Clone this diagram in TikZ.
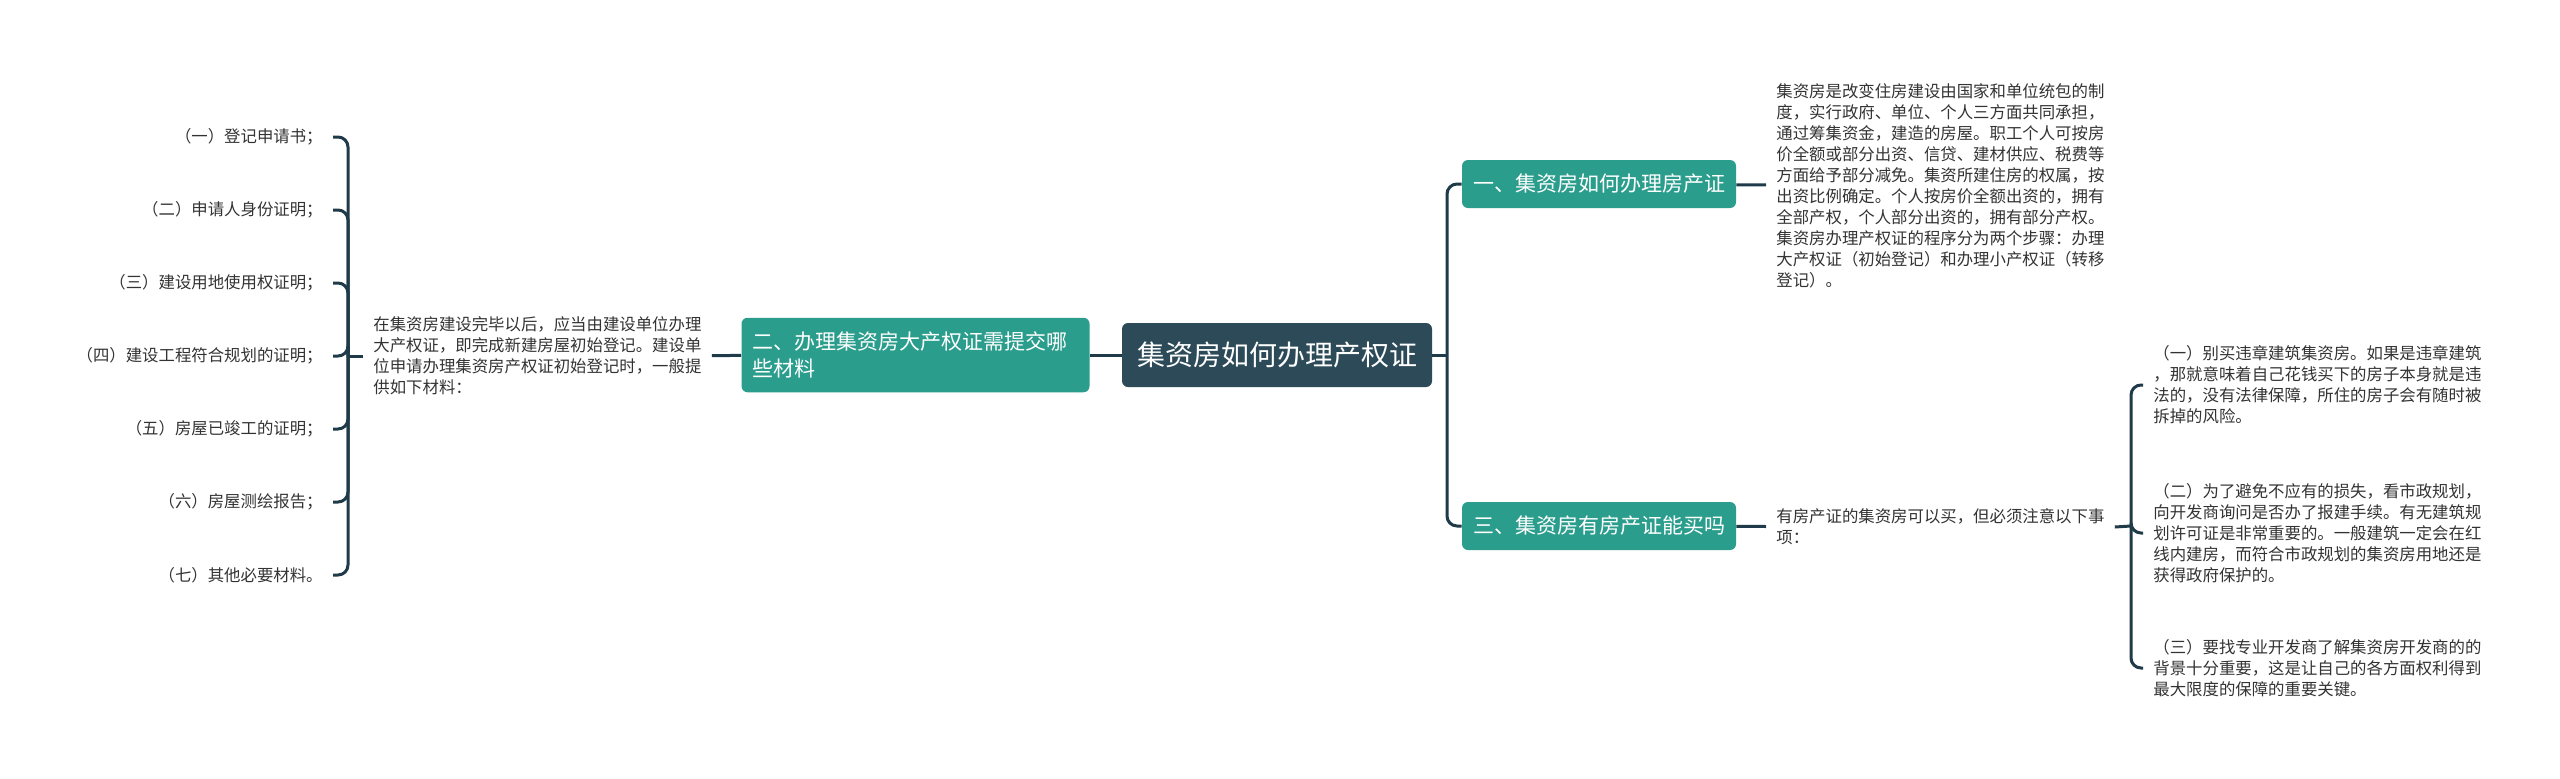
\documentclass[tikz,border=0pt]{standalone}
\usepackage{fontspec}
\newfontfamily\cjk{Noto Sans CJK SC}
\definecolor{rootfill}{HTML}{2C4A58}
\definecolor{topicfill}{HTML}{2A9D8C}
\definecolor{linkcol}{HTML}{1F3A48}
\definecolor{leafcol}{HTML}{333333}

\begin{document}
\begin{tikzpicture}[x=0.5pt,y=-0.5pt,
  root/.style={fill=rootfill,text=white,rounded corners=3pt,
    font=\cjk\fontsize{14}{17}\selectfont,inner xsep=7.5pt,minimum height=32pt},
  topic/.style={fill=topicfill,text=white,rounded corners=3pt,
    font=\cjk\fontsize{10.5}{13.5}\selectfont,inner xsep=5.5pt,inner ysep=7pt,minimum height=24pt},
  leaf/.style={text=leafcol,font=\cjk\fontsize{8.2}{10.5}\selectfont,align=left,
    inner xsep=5pt,inner ysep=2pt},
  link/.style={draw=linkcol,line width=1.5pt,rounded corners=5pt}]

\useasboundingbox[fill=white] (0,0) rectangle (2560,778);

% main topics
\node[root]  (root) at (1277,355)   {集资房如何办理产权证};
\node[topic,text width=163pt,align=left] (t2) at (915.5,355)
  {二、办理集资房大产权证需提交哪\\些材料};
\node[topic] (t1) at (1599,184) {一、集资房如何办理房产证};
\node[topic] (t3) at (1599,526) {三、集资房有房产证能买吗};

% texts
\node[leaf,anchor=west] (p2) at (363,356)
  {在集资房建设完毕以后，应当由建设单位办理\\大产权证，即完成新建房屋初始登记。建设单\\位申请办理集资房产权证初始登记时，一般提\\供如下材料：};
\node[leaf,anchor=west] (p1) at (1766,186)
  {集资房是改变住房建设由国家和单位统包的制\\度，实行政府、单位、个人三方面共同承担，\\通过筹集资金，建造的房屋。职工个人可按房\\价全额或部分出资、信贷、建材供应、税费等\\方面给予部分减免。集资所建住房的权属，按\\出资比例确定。个人按房价全额出资的，拥有\\全部产权，个人部分出资的，拥有部分产权。\\集资房办理产权证的程序分为两个步骤：办理\\大产权证（初始登记）和办理小产权证（转移\\登记）。};
\node[leaf,anchor=west] (p3) at (1766,527)
  {有房产证的集资房可以买，但必须注意以下事\\项：};

% materials
\node[leaf,anchor=east] (m1) at (333,137) {（一）登记申请书；};
\node[leaf,anchor=east] (m2) at (333,210) {（二）申请人身份证明；};
\node[leaf,anchor=east] (m3) at (333,283) {（三）建设用地使用权证明；};
\node[leaf,anchor=east] (m4) at (333,356) {（四）建设工程符合规划的证明；};
\node[leaf,anchor=east] (m5) at (333,429) {（五）房屋已竣工的证明；};
\node[leaf,anchor=east] (m6) at (333,502) {（六）房屋测绘报告；};
\node[leaf,anchor=east] (m7) at (333,575) {（七）其他必要材料。};

% points to note
\node[leaf,anchor=west] (n1) at (2143,385)
  {（一）别买违章建筑集资房。如果是违章建筑\\，那就意味着自己花钱买下的房子本身就是违\\法的，没有法律保障，所住的房子会有随时被\\拆掉的风险。};
\node[leaf,anchor=west] (n2) at (2143,533)
  {（二）为了避免不应有的损失，看市政规划，\\向开发商询问是否办了报建手续。有无建筑规\\划许可证是非常重要的。一般建筑一定会在红\\线内建房，而符合市政规划的集资房用地还是\\获得政府保护的。};
\node[leaf,anchor=west] (n3) at (2143,668)
  {（三）要找专业开发商了解集资房开发商的的\\背景十分重要，这是让自己的各方面权利得到\\最大限度的保障的重要关键。};

\coordinate (spine) at (1447,355);
\coordinate (lbrace) at (348,356);
\coordinate (rbrace) at (2131,526);

\path[link] (root) edge (t2)
            (t2)   edge (p2)
            (t1)   edge (p1)
            (t3)   edge (p3);

\draw[link] (root.east) -- (spine);
\draw[link] (spine) |- (t1.west);
\draw[link] (spine) |- (t3.west);

\draw[link] (p2.west) -- (lbrace);
\draw[link] (lbrace) |- (m1.east);
\draw[link] (lbrace) |- (m2.east);
\draw[link] (lbrace) |- (m3.east);
\draw[link] (lbrace) |- (m4.east);
\draw[link] (lbrace) |- (m5.east);
\draw[link] (lbrace) |- (m6.east);
\draw[link] (lbrace) |- (m7.east);

\draw[link] (p3.east) -- (rbrace);
\draw[link] (rbrace) |- (n1.west);
\draw[link] (rbrace) |- (n2.west);
\draw[link] (rbrace) |- (n3.west);

\end{tikzpicture}
\end{document}
